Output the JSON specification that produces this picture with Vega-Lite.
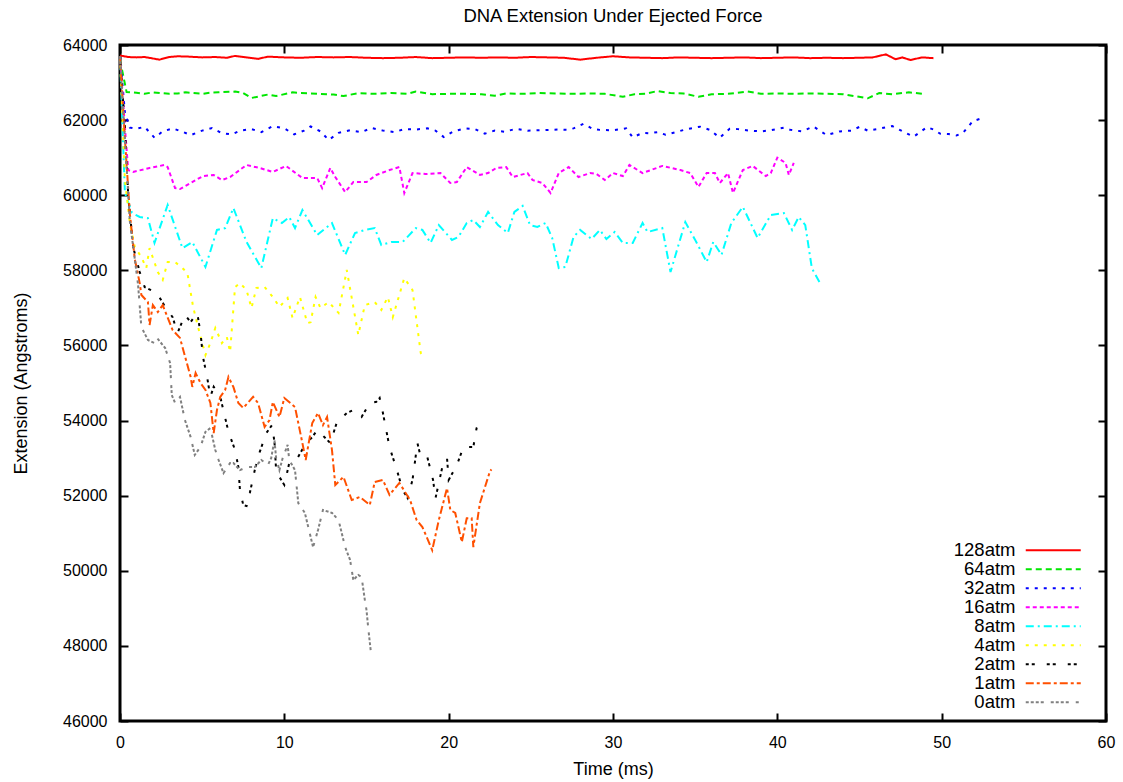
{
"$schema": "https://vega.github.io/schema/vega-lite/v6.json",
"width": 986, "height": 676,
"autosize": {"type": "none"},
"padding": {"left": 120, "top": 45, "right": 17, "bottom": 61},
"background": "white",
"title": {"text": "DNA Extension Under Ejected Force", "fontSize": 18.5, "fontWeight": "normal", "font": "Liberation Sans", "color": "black", "offset": 12, "anchor": "middle"},
"config": {
  "view": {"stroke": "black", "strokeWidth": 3},
  "axis": {"grid": false, "domain": false, "labelFlush": false, "labelFont": "Liberation Sans", "labelFontSize": 16, "labelColor": "black", "titleFont": "Liberation Sans", "titleFontSize": 18, "titleFontWeight": "normal", "titleColor": "black", "tickColor": "black", "tickWidth": 2, "tickSize": -8}
},
"data": {"values": [
{"s":"128atm","t":0,"v":63720},{"s":"128atm","t":0.5,"v":63680},{"s":"128atm","t":1,"v":63670},{"s":"128atm","t":1.5,"v":63680},{"s":"128atm","t":2.4,"v":63610},{"s":"128atm","t":3,"v":63680},{"s":"128atm","t":3.5,"v":63700},{"s":"128atm","t":4.2,"v":63690},{"s":"128atm","t":5,"v":63670},{"s":"128atm","t":5.8,"v":63680},{"s":"128atm","t":6.5,"v":63660},{"s":"128atm","t":7,"v":63710},{"s":"128atm","t":7.5,"v":63680},{"s":"128atm","t":8.4,"v":63630},{"s":"128atm","t":9,"v":63690},{"s":"128atm","t":10,"v":63670},{"s":"128atm","t":11,"v":63660},{"s":"128atm","t":12,"v":63680},{"s":"128atm","t":13,"v":63670},{"s":"128atm","t":14,"v":63680},{"s":"128atm","t":15,"v":63660},{"s":"128atm","t":16,"v":63650},{"s":"128atm","t":17,"v":63660},{"s":"128atm","t":18,"v":63680},{"s":"128atm","t":19,"v":63650},{"s":"128atm","t":20,"v":63660},{"s":"128atm","t":21,"v":63670},{"s":"128atm","t":22,"v":63660},{"s":"128atm","t":23,"v":63670},{"s":"128atm","t":24,"v":63660},{"s":"128atm","t":25,"v":63680},{"s":"128atm","t":26,"v":63670},{"s":"128atm","t":27,"v":63660},{"s":"128atm","t":28,"v":63610},{"s":"128atm","t":29,"v":63660},{"s":"128atm","t":30,"v":63700},{"s":"128atm","t":31,"v":63670},{"s":"128atm","t":32,"v":63660},{"s":"128atm","t":33,"v":63650},{"s":"128atm","t":34,"v":63670},{"s":"128atm","t":35,"v":63660},{"s":"128atm","t":36,"v":63650},{"s":"128atm","t":37,"v":63660},{"s":"128atm","t":38,"v":63670},{"s":"128atm","t":39,"v":63650},{"s":"128atm","t":40,"v":63660},{"s":"128atm","t":41,"v":63670},{"s":"128atm","t":42,"v":63650},{"s":"128atm","t":43,"v":63660},{"s":"128atm","t":44,"v":63650},{"s":"128atm","t":45,"v":63660},{"s":"128atm","t":45.8,"v":63670},{"s":"128atm","t":46.6,"v":63750},{"s":"128atm","t":47.2,"v":63620},{"s":"128atm","t":47.6,"v":63670},{"s":"128atm","t":48.1,"v":63600},{"s":"128atm","t":48.8,"v":63670},{"s":"128atm","t":49.5,"v":63650},
{"s":"64atm","t":0,"v":63600},{"s":"64atm","t":0.4,"v":62750},{"s":"64atm","t":1,"v":62730},{"s":"64atm","t":1.5,"v":62700},{"s":"64atm","t":2,"v":62740},{"s":"64atm","t":3,"v":62700},{"s":"64atm","t":3.5,"v":62710},{"s":"64atm","t":4,"v":62740},{"s":"64atm","t":5,"v":62700},{"s":"64atm","t":5.5,"v":62730},{"s":"64atm","t":6,"v":62740},{"s":"64atm","t":7,"v":62760},{"s":"64atm","t":7.5,"v":62720},{"s":"64atm","t":8,"v":62590},{"s":"64atm","t":9,"v":62680},{"s":"64atm","t":9.5,"v":62640},{"s":"64atm","t":10.5,"v":62740},{"s":"64atm","t":11,"v":62720},{"s":"64atm","t":12,"v":62700},{"s":"64atm","t":13,"v":62680},{"s":"64atm","t":13.6,"v":62640},{"s":"64atm","t":14.5,"v":62720},{"s":"64atm","t":15.5,"v":62700},{"s":"64atm","t":16.5,"v":62720},{"s":"64atm","t":17.5,"v":62700},{"s":"64atm","t":18,"v":62760},{"s":"64atm","t":19,"v":62690},{"s":"64atm","t":20,"v":62700},{"s":"64atm","t":21,"v":62700},{"s":"64atm","t":22,"v":62690},{"s":"64atm","t":22.8,"v":62650},{"s":"64atm","t":23.5,"v":62710},{"s":"64atm","t":24.5,"v":62700},{"s":"64atm","t":25.5,"v":62720},{"s":"64atm","t":26.5,"v":62710},{"s":"64atm","t":27.5,"v":62700},{"s":"64atm","t":28.5,"v":62710},{"s":"64atm","t":29.5,"v":62700},{"s":"64atm","t":30.6,"v":62620},{"s":"64atm","t":31.3,"v":62690},{"s":"64atm","t":32,"v":62700},{"s":"64atm","t":32.7,"v":62775},{"s":"64atm","t":33.5,"v":62720},{"s":"64atm","t":34.3,"v":62710},{"s":"64atm","t":35.2,"v":62620},{"s":"64atm","t":36,"v":62690},{"s":"64atm","t":37,"v":62700},{"s":"64atm","t":38.2,"v":62760},{"s":"64atm","t":39,"v":62700},{"s":"64atm","t":40,"v":62710},{"s":"64atm","t":41,"v":62700},{"s":"64atm","t":42,"v":62710},{"s":"64atm","t":43,"v":62700},{"s":"64atm","t":44,"v":62690},{"s":"64atm","t":45.5,"v":62580},{"s":"64atm","t":46.2,"v":62720},{"s":"64atm","t":47,"v":62690},{"s":"64atm","t":48,"v":62740},{"s":"64atm","t":48.9,"v":62700},
{"s":"32atm","t":0,"v":63700},{"s":"32atm","t":0.3,"v":62200},{"s":"32atm","t":0.6,"v":61800},{"s":"32atm","t":1,"v":61770},{"s":"32atm","t":1.5,"v":61820},{"s":"32atm","t":2.1,"v":61530},{"s":"32atm","t":2.6,"v":61700},{"s":"32atm","t":3.2,"v":61780},{"s":"32atm","t":3.8,"v":61690},{"s":"32atm","t":4.3,"v":61600},{"s":"32atm","t":5,"v":61720},{"s":"32atm","t":5.6,"v":61790},{"s":"32atm","t":6.2,"v":61650},{"s":"32atm","t":6.8,"v":61620},{"s":"32atm","t":7.3,"v":61720},{"s":"32atm","t":8,"v":61760},{"s":"32atm","t":8.6,"v":61680},{"s":"32atm","t":9.3,"v":61840},{"s":"32atm","t":10,"v":61780},{"s":"32atm","t":10.6,"v":61620},{"s":"32atm","t":11.2,"v":61720},{"s":"32atm","t":11.6,"v":61830},{"s":"32atm","t":12.2,"v":61700},{"s":"32atm","t":12.7,"v":61470},{"s":"32atm","t":13.3,"v":61660},{"s":"32atm","t":14,"v":61730},{"s":"32atm","t":14.7,"v":61680},{"s":"32atm","t":15.3,"v":61790},{"s":"32atm","t":16,"v":61720},{"s":"32atm","t":16.7,"v":61680},{"s":"32atm","t":17.3,"v":61760},{"s":"32atm","t":18,"v":61750},{"s":"32atm","t":18.7,"v":61780},{"s":"32atm","t":19.2,"v":61720},{"s":"32atm","t":19.7,"v":61550},{"s":"32atm","t":20.3,"v":61700},{"s":"32atm","t":21,"v":61780},{"s":"32atm","t":21.6,"v":61760},{"s":"32atm","t":22.2,"v":61640},{"s":"32atm","t":22.8,"v":61720},{"s":"32atm","t":23.4,"v":61690},{"s":"32atm","t":24.1,"v":61770},{"s":"32atm","t":24.8,"v":61720},{"s":"32atm","t":25.5,"v":61730},{"s":"32atm","t":26.2,"v":61740},{"s":"32atm","t":26.7,"v":61750},{"s":"32atm","t":27.2,"v":61740},{"s":"32atm","t":27.6,"v":61780},{"s":"32atm","t":28.2,"v":61900},{"s":"32atm","t":28.8,"v":61760},{"s":"32atm","t":29.2,"v":61740},{"s":"32atm","t":30,"v":61730},{"s":"32atm","t":30.8,"v":61780},{"s":"32atm","t":31.2,"v":61540},{"s":"32atm","t":31.8,"v":61660},{"s":"32atm","t":32.2,"v":61650},{"s":"32atm","t":32.7,"v":61680},{"s":"32atm","t":33.2,"v":61610},{"s":"32atm","t":33.9,"v":61690},{"s":"32atm","t":34.5,"v":61760},{"s":"32atm","t":35.3,"v":61825},{"s":"32atm","t":35.9,"v":61740},{"s":"32atm","t":36.5,"v":61530},{"s":"32atm","t":37.1,"v":61770},{"s":"32atm","t":37.6,"v":61760},{"s":"32atm","t":38.3,"v":61720},{"s":"32atm","t":39,"v":61700},{"s":"32atm","t":39.6,"v":61730},{"s":"32atm","t":40.4,"v":61800},{"s":"32atm","t":40.8,"v":61740},{"s":"32atm","t":41.5,"v":61700},{"s":"32atm","t":42.2,"v":61830},{"s":"32atm","t":43,"v":61600},{"s":"32atm","t":43.8,"v":61700},{"s":"32atm","t":44.5,"v":61720},{"s":"32atm","t":45,"v":61820},{"s":"32atm","t":45.5,"v":61720},{"s":"32atm","t":46.1,"v":61760},{"s":"32atm","t":46.7,"v":61820},{"s":"32atm","t":47,"v":61840},{"s":"32atm","t":47.9,"v":61640},{"s":"32atm","t":48.3,"v":61560},{"s":"32atm","t":49.1,"v":61810},{"s":"32atm","t":49.5,"v":61750},{"s":"32atm","t":49.9,"v":61640},{"s":"32atm","t":50.4,"v":61630},{"s":"32atm","t":50.9,"v":61590},{"s":"32atm","t":51.3,"v":61660},{"s":"32atm","t":51.9,"v":61975},{"s":"32atm","t":52.5,"v":62055},
{"s":"16atm","t":0,"v":63700},{"s":"16atm","t":0.3,"v":61800},{"s":"16atm","t":0.5,"v":60670},{"s":"16atm","t":0.8,"v":60620},{"s":"16atm","t":1.8,"v":60725},{"s":"16atm","t":2.7,"v":60805},{"s":"16atm","t":2.9,"v":60750},{"s":"16atm","t":3.35,"v":60190},{"s":"16atm","t":3.65,"v":60165},{"s":"16atm","t":4.3,"v":60325},{"s":"16atm","t":5.05,"v":60510},{"s":"16atm","t":5.7,"v":60540},{"s":"16atm","t":6.2,"v":60405},{"s":"16atm","t":6.7,"v":60485},{"s":"16atm","t":7.7,"v":60805},{"s":"16atm","t":8.5,"v":60725},{"s":"16atm","t":9.3,"v":60620},{"s":"16atm","t":10.1,"v":60780},{"s":"16atm","t":11.1,"v":60460},{"s":"16atm","t":12,"v":60460},{"s":"16atm","t":12.3,"v":60190},{"s":"16atm","t":12.8,"v":60725},{"s":"16atm","t":13.1,"v":60485},{"s":"16atm","t":13.7,"v":60085},{"s":"16atm","t":14.2,"v":60350},{"s":"16atm","t":15,"v":60350},{"s":"16atm","t":15.6,"v":60540},{"s":"16atm","t":16.4,"v":60670},{"s":"16atm","t":17,"v":60750},{"s":"16atm","t":17.3,"v":60060},{"s":"16atm","t":17.8,"v":60590},{"s":"16atm","t":18.6,"v":60565},{"s":"16atm","t":19.5,"v":60590},{"s":"16atm","t":20.1,"v":60325},{"s":"16atm","t":20.5,"v":60350},{"s":"16atm","t":21.1,"v":60750},{"s":"16atm","t":21.9,"v":60540},{"s":"16atm","t":22.4,"v":60590},{"s":"16atm","t":22.9,"v":60725},{"s":"16atm","t":23.5,"v":60750},{"s":"16atm","t":23.9,"v":60485},{"s":"16atm","t":24.8,"v":60590},{"s":"16atm","t":25.1,"v":60405},{"s":"16atm","t":25.7,"v":60325},{"s":"16atm","t":26.2,"v":60060},{"s":"16atm","t":26.7,"v":60590},{"s":"16atm","t":27.3,"v":60750},{"s":"16atm","t":27.9,"v":60485},{"s":"16atm","t":28.6,"v":60590},{"s":"16atm","t":29,"v":60565},{"s":"16atm","t":29.5,"v":60405},{"s":"16atm","t":30,"v":60590},{"s":"16atm","t":30.6,"v":60510},{"s":"16atm","t":31,"v":60805},{"s":"16atm","t":31.8,"v":60590},{"s":"16atm","t":33,"v":60780},{"s":"16atm","t":34.1,"v":60670},{"s":"16atm","t":34.7,"v":60590},{"s":"16atm","t":35.2,"v":60220},{"s":"16atm","t":35.7,"v":60590},{"s":"16atm","t":36.2,"v":60590},{"s":"16atm","t":36.5,"v":60325},{"s":"16atm","t":37,"v":60590},{"s":"16atm","t":37.3,"v":60060},{"s":"16atm","t":37.9,"v":60670},{"s":"16atm","t":38.5,"v":60780},{"s":"16atm","t":39.3,"v":60510},{"s":"16atm","t":39.6,"v":60590},{"s":"16atm","t":40,"v":61000},{"s":"16atm","t":40.5,"v":60860},{"s":"16atm","t":40.7,"v":60540},{"s":"16atm","t":41,"v":60860},
{"s":"8atm","t":0,"v":63700},{"s":"8atm","t":0.3,"v":60060},{"s":"8atm","t":0.73,"v":59530},{"s":"8atm","t":1.2,"v":59420},{"s":"8atm","t":1.7,"v":59390},{"s":"8atm","t":2.1,"v":58730},{"s":"8atm","t":2.9,"v":59740},{"s":"8atm","t":3.8,"v":58590},{"s":"8atm","t":4.4,"v":58755},{"s":"8atm","t":5.2,"v":58090},{"s":"8atm","t":5.9,"v":59075},{"s":"8atm","t":6.4,"v":59125},{"s":"8atm","t":6.9,"v":59660},{"s":"8atm","t":7.7,"v":58755},{"s":"8atm","t":8.6,"v":58060},{"s":"8atm","t":9.3,"v":59390},{"s":"8atm","t":9.85,"v":59260},{"s":"8atm","t":10.3,"v":59420},{"s":"8atm","t":10.65,"v":59125},{"s":"8atm","t":11.1,"v":59605},{"s":"8atm","t":12,"v":58940},{"s":"8atm","t":12.9,"v":59260},{"s":"8atm","t":13.7,"v":58410},{"s":"8atm","t":14.3,"v":58995},{"s":"8atm","t":14.9,"v":59075},{"s":"8atm","t":15.5,"v":59125},{"s":"8atm","t":15.9,"v":58675},{"s":"8atm","t":16.5,"v":58755},{"s":"8atm","t":17.2,"v":58755},{"s":"8atm","t":18,"v":59125},{"s":"8atm","t":18.4,"v":59075},{"s":"8atm","t":18.9,"v":58730},{"s":"8atm","t":19.4,"v":59205},{"s":"8atm","t":20.2,"v":58810},{"s":"8atm","t":20.6,"v":58890},{"s":"8atm","t":21.1,"v":59260},{"s":"8atm","t":21.5,"v":59340},{"s":"8atm","t":21.9,"v":59155},{"s":"8atm","t":22.4,"v":59555},{"s":"8atm","t":23,"v":59205},{"s":"8atm","t":23.6,"v":58995},{"s":"8atm","t":24,"v":59555},{"s":"8atm","t":24.5,"v":59715},{"s":"8atm","t":24.95,"v":59205},{"s":"8atm","t":25.4,"v":59155},{"s":"8atm","t":25.9,"v":59260},{"s":"8atm","t":26.3,"v":58860},{"s":"8atm","t":26.7,"v":58060},{"s":"8atm","t":27.1,"v":58090},{"s":"8atm","t":27.6,"v":58890},{"s":"8atm","t":28,"v":59075},{"s":"8atm","t":28.7,"v":58835},{"s":"8atm","t":29.2,"v":59075},{"s":"8atm","t":29.6,"v":58835},{"s":"8atm","t":30.1,"v":59020},{"s":"8atm","t":30.6,"v":58730},{"s":"8atm","t":31.2,"v":58730},{"s":"8atm","t":31.8,"v":59260},{"s":"8atm","t":32.1,"v":59020},{"s":"8atm","t":33,"v":59125},{"s":"8atm","t":33.5,"v":57955},{"s":"8atm","t":34.4,"v":59285},{"s":"8atm","t":35,"v":58810},{"s":"8atm","t":35.7,"v":58220},{"s":"8atm","t":36.1,"v":58755},{"s":"8atm","t":36.6,"v":58410},{"s":"8atm","t":37.2,"v":59260},{"s":"8atm","t":37.9,"v":59690},{"s":"8atm","t":38.8,"v":58860},{"s":"8atm","t":39.6,"v":59475},{"s":"8atm","t":40.4,"v":59525},{"s":"8atm","t":40.9,"v":59075},{"s":"8atm","t":41.3,"v":59420},{"s":"8atm","t":41.7,"v":59205},{"s":"8atm","t":42.1,"v":58060},{"s":"8atm","t":42.6,"v":57660},
{"s":"4atm","t":0,"v":63700},{"s":"4atm","t":0.3,"v":60400},{"s":"4atm","t":0.6,"v":59260},{"s":"4atm","t":0.9,"v":58620},{"s":"4atm","t":1.3,"v":58355},{"s":"4atm","t":1.6,"v":58060},{"s":"4atm","t":1.8,"v":58590},{"s":"4atm","t":2.3,"v":57955},{"s":"4atm","t":2.6,"v":57745},{"s":"4atm","t":2.9,"v":58220},{"s":"4atm","t":3.35,"v":58220},{"s":"4atm","t":3.8,"v":58060},{"s":"4atm","t":4.1,"v":57930},{"s":"4atm","t":4.45,"v":57025},{"s":"4atm","t":4.75,"v":56490},{"s":"4atm","t":5.2,"v":55745},{"s":"4atm","t":5.5,"v":56065},{"s":"4atm","t":5.8,"v":56465},{"s":"4atm","t":6.2,"v":56065},{"s":"4atm","t":6.5,"v":56225},{"s":"4atm","t":6.7,"v":55825},{"s":"4atm","t":7,"v":57555},{"s":"4atm","t":7.3,"v":57660},{"s":"4atm","t":7.7,"v":57475},{"s":"4atm","t":8,"v":56995},{"s":"4atm","t":8.3,"v":57530},{"s":"4atm","t":8.8,"v":57555},{"s":"4atm","t":9.3,"v":57290},{"s":"4atm","t":9.7,"v":57025},{"s":"4atm","t":10.2,"v":57265},{"s":"4atm","t":10.5,"v":56730},{"s":"4atm","t":10.95,"v":57290},{"s":"4atm","t":11.4,"v":56595},{"s":"4atm","t":11.6,"v":56620},{"s":"4atm","t":11.9,"v":57290},{"s":"4atm","t":12.2,"v":56995},{"s":"4atm","t":12.7,"v":57155},{"s":"4atm","t":13.3,"v":56865},{"s":"4atm","t":13.8,"v":58010},{"s":"4atm","t":14.5,"v":56280},{"s":"4atm","t":14.9,"v":57075},{"s":"4atm","t":15.5,"v":57155},{"s":"4atm","t":15.9,"v":56945},{"s":"4atm","t":16.3,"v":57290},{"s":"4atm","t":16.6,"v":56755},{"s":"4atm","t":17.3,"v":57795},{"s":"4atm","t":17.8,"v":57475},{"s":"4atm","t":18.3,"v":55800},{"s":"4atm","t":18.4,"v":55740},
{"s":"2atm","t":0,"v":63700},{"s":"2atm","t":0.3,"v":61800},{"s":"2atm","t":0.5,"v":60000},{"s":"2atm","t":0.8,"v":58620},{"s":"2atm","t":1.2,"v":57955},{"s":"2atm","t":1.5,"v":57555},{"s":"2atm","t":2.25,"v":57395},{"s":"2atm","t":2.75,"v":57025},{"s":"2atm","t":3.2,"v":56755},{"s":"2atm","t":3.5,"v":56330},{"s":"2atm","t":3.95,"v":56810},{"s":"2atm","t":4.3,"v":56625},{"s":"2atm","t":4.7,"v":56865},{"s":"2atm","t":4.9,"v":56330},{"s":"2atm","t":5.05,"v":55690},{"s":"2atm","t":5.3,"v":55160},{"s":"2atm","t":5.5,"v":54630},{"s":"2atm","t":5.7,"v":54900},{"s":"2atm","t":6.1,"v":54630},{"s":"2atm","t":6.6,"v":53700},{"s":"2atm","t":7,"v":53215},{"s":"2atm","t":7.2,"v":52770},{"s":"2atm","t":7.3,"v":52150},{"s":"2atm","t":7.5,"v":51750},{"s":"2atm","t":7.7,"v":51725},{"s":"2atm","t":7.9,"v":52070},{"s":"2atm","t":8.2,"v":52680},{"s":"2atm","t":8.5,"v":53160},{"s":"2atm","t":8.9,"v":53665},{"s":"2atm","t":9.25,"v":53880},{"s":"2atm","t":9.4,"v":53430},{"s":"2atm","t":9.5,"v":52680},{"s":"2atm","t":9.7,"v":52500},{"s":"2atm","t":10,"v":52285},{"s":"2atm","t":10.3,"v":52870},{"s":"2atm","t":10.8,"v":53000},{"s":"2atm","t":11.25,"v":53350},{"s":"2atm","t":11.7,"v":53560},{"s":"2atm","t":12,"v":53750},{"s":"2atm","t":12.35,"v":53600},{"s":"2atm","t":12.8,"v":53400},{"s":"2atm","t":13.2,"v":53960},{"s":"2atm","t":13.8,"v":54200},{"s":"2atm","t":14.2,"v":54280},{"s":"2atm","t":14.7,"v":54095},{"s":"2atm","t":15.2,"v":54470},{"s":"2atm","t":15.6,"v":54500},{"s":"2atm","t":15.8,"v":54600},{"s":"2atm","t":16,"v":54200},{"s":"2atm","t":16.4,"v":53295},{"s":"2atm","t":16.85,"v":52680},{"s":"2atm","t":17.2,"v":52150},{"s":"2atm","t":17.5,"v":51935},{"s":"2atm","t":17.8,"v":52420},{"s":"2atm","t":18.1,"v":53400},{"s":"2atm","t":18.3,"v":53030},{"s":"2atm","t":18.7,"v":53030},{"s":"2atm","t":19.05,"v":52420},{"s":"2atm","t":19.2,"v":51935},{"s":"2atm","t":19.6,"v":52735},{"s":"2atm","t":19.9,"v":53000},{"s":"2atm","t":20,"v":52420},{"s":"2atm","t":20.5,"v":52815},{"s":"2atm","t":20.9,"v":53295},{"s":"2atm","t":21.5,"v":53295},{"s":"2atm","t":21.7,"v":53800},{"s":"2atm","t":21.8,"v":53880},
{"s":"1atm","t":0,"v":63700},{"s":"1atm","t":0.3,"v":61500},{"s":"1atm","t":0.6,"v":59500},{"s":"1atm","t":0.9,"v":58300},{"s":"1atm","t":1.2,"v":57660},{"s":"1atm","t":1.3,"v":57345},{"s":"1atm","t":1.7,"v":57155},{"s":"1atm","t":1.8,"v":56545},{"s":"1atm","t":2,"v":57075},{"s":"1atm","t":2.3,"v":56890},{"s":"1atm","t":2.6,"v":57075},{"s":"1atm","t":3.2,"v":56410},{"s":"1atm","t":3.65,"v":56200},{"s":"1atm","t":4.3,"v":55160},{"s":"1atm","t":4.4,"v":54895},{"s":"1atm","t":4.6,"v":55265},{"s":"1atm","t":4.9,"v":55000},{"s":"1atm","t":5.2,"v":54815},{"s":"1atm","t":5.5,"v":54470},{"s":"1atm","t":5.7,"v":53665},{"s":"1atm","t":5.9,"v":54280},{"s":"1atm","t":6.1,"v":54630},{"s":"1atm","t":6.4,"v":54815},{"s":"1atm","t":6.6,"v":55160},{"s":"1atm","t":6.9,"v":54895},{"s":"1atm","t":7.2,"v":54470},{"s":"1atm","t":7.5,"v":54335},{"s":"1atm","t":8.1,"v":54630},{"s":"1atm","t":8.4,"v":54470},{"s":"1atm","t":8.8,"v":53830},{"s":"1atm","t":9.1,"v":54015},{"s":"1atm","t":9.3,"v":54495},{"s":"1atm","t":9.7,"v":54095},{"s":"1atm","t":10,"v":54600},{"s":"1atm","t":10.65,"v":54360},{"s":"1atm","t":11.1,"v":53400},{"s":"1atm","t":11.3,"v":52950},{"s":"1atm","t":11.7,"v":53935},{"s":"1atm","t":12.05,"v":54200},{"s":"1atm","t":12.35,"v":53880},{"s":"1atm","t":12.6,"v":54095},{"s":"1atm","t":12.9,"v":53215},{"s":"1atm","t":13.1,"v":52285},{"s":"1atm","t":13.6,"v":52500},{"s":"1atm","t":14.1,"v":51885},{"s":"1atm","t":14.6,"v":51965},{"s":"1atm","t":15.2,"v":51750},{"s":"1atm","t":15.5,"v":52365},{"s":"1atm","t":16,"v":52420},{"s":"1atm","t":16.4,"v":52020},{"s":"1atm","t":17,"v":52340},{"s":"1atm","t":17.65,"v":51885},{"s":"1atm","t":18.05,"v":51350},{"s":"1atm","t":18.4,"v":51165},{"s":"1atm","t":19,"v":50550},{"s":"1atm","t":19.4,"v":51350},{"s":"1atm","t":19.9,"v":52200},{"s":"1atm","t":20.1,"v":51620},{"s":"1atm","t":20.4,"v":51540},{"s":"1atm","t":20.8,"v":50765},{"s":"1atm","t":21.1,"v":51400},{"s":"1atm","t":21.4,"v":51400},{"s":"1atm","t":21.5,"v":50630},{"s":"1atm","t":21.9,"v":51800},{"s":"1atm","t":22.5,"v":52630},{"s":"1atm","t":22.6,"v":52700},
{"s":"0atm","t":0,"v":63700},{"s":"0atm","t":0.3,"v":61500},{"s":"0atm","t":0.6,"v":59300},{"s":"0atm","t":0.9,"v":58300},{"s":"0atm","t":1.1,"v":57610},{"s":"0atm","t":1.3,"v":56490},{"s":"0atm","t":1.7,"v":56145},{"s":"0atm","t":2.1,"v":56065},{"s":"0atm","t":2.25,"v":56200},{"s":"0atm","t":2.75,"v":55930},{"s":"0atm","t":3.05,"v":55530},{"s":"0atm","t":3.15,"v":54680},{"s":"0atm","t":3.35,"v":54470},{"s":"0atm","t":3.65,"v":54630},{"s":"0atm","t":3.95,"v":54015},{"s":"0atm","t":4.3,"v":53560},{"s":"0atm","t":4.55,"v":53085},{"s":"0atm","t":4.9,"v":53300},{"s":"0atm","t":5.2,"v":53700},{"s":"0atm","t":5.5,"v":53800},{"s":"0atm","t":5.8,"v":53215},{"s":"0atm","t":6,"v":52950},{"s":"0atm","t":6.3,"v":52600},{"s":"0atm","t":6.7,"v":52870},{"s":"0atm","t":6.9,"v":52870},{"s":"0atm","t":7.3,"v":52680},{"s":"0atm","t":7.7,"v":52760},{"s":"0atm","t":8.2,"v":52760},{"s":"0atm","t":8.6,"v":52950},{"s":"0atm","t":9,"v":52815},{"s":"0atm","t":9.2,"v":53000},{"s":"0atm","t":9.4,"v":53480},{"s":"0atm","t":9.5,"v":53000},{"s":"0atm","t":9.7,"v":52680},{"s":"0atm","t":9.9,"v":53000},{"s":"0atm","t":10.2,"v":53350},{"s":"0atm","t":10.3,"v":52950},{"s":"0atm","t":10.65,"v":52680},{"s":"0atm","t":10.85,"v":51800},{"s":"0atm","t":11.25,"v":51540},{"s":"0atm","t":11.75,"v":50630},{"s":"0atm","t":12.05,"v":51085},{"s":"0atm","t":12.35,"v":51620},{"s":"0atm","t":12.9,"v":51540},{"s":"0atm","t":13.3,"v":51350},{"s":"0atm","t":13.7,"v":50630},{"s":"0atm","t":14,"v":50290},{"s":"0atm","t":14.2,"v":49755},{"s":"0atm","t":14.5,"v":49890},{"s":"0atm","t":14.7,"v":49835},{"s":"0atm","t":14.9,"v":49220},{"s":"0atm","t":15,"v":48955},{"s":"0atm","t":15.1,"v":48500},{"s":"0atm","t":15.3,"v":47700}
]},
"layer": [
  {
    "mark": {"type": "line", "strokeWidth": 2},
    "encoding": {
      "x": {"field": "t", "type": "quantitative", "scale": {"domain": [0, 60], "nice": false, "zero": false},
            "axis": {"values": [0,10,20,30,40,50,60], "title": "Time (ms)", "labelPadding": 21, "titlePadding": 10}},
      "y": {"field": "v", "type": "quantitative", "scale": {"domain": [46000, 64000], "nice": false, "zero": false},
            "axis": {"values": [46000,48000,50000,52000,54000,56000,58000,60000,62000,64000], "format": "d", "title": "Extension (Angstroms)", "labelPadding": 21, "titlePadding": 32}},
      "color": {"field": "s", "type": "nominal",
        "scale": {"domain": ["128atm","64atm","32atm","16atm","8atm","4atm","2atm","1atm","0atm"],
                  "range": ["#ff0000","#00e600","#0000ff","#ff00ff","#00ffff","#ffff00","#000000","#ff5000","#808080"]},
        "legend": {"title": null, "orient": "none", "legendX": 924, "legendY": 496, "symbolType": "M-5,0H5", "symbolSize": 121, "symbolStrokeWidth": 2, "labelAlign": "right", "labelOffset": -47, "labelFontSize": 18.5, "labelFont": "Liberation Sans", "labelColor": "black", "rowPadding": 0}},
      "strokeDash": {"field": "s", "type": "nominal",
        "scale": {"domain": ["128atm","64atm","32atm","16atm","8atm","4atm","2atm","1atm","0atm"],
                  "range": [[1,0],[6,4],[3,6],[4,3],[8,4,2,4],[3,6],[3,3,3,12],[8,3,3,3],[3,2,3,2,3,2,3,7]]},
        "legend": {"title": null, "orient": "none", "legendX": 924, "legendY": 496, "symbolType": "M-5,0H5", "symbolSize": 121, "symbolStrokeWidth": 2, "labelAlign": "right", "labelOffset": -47, "labelFontSize": 18.5, "labelFont": "Liberation Sans", "labelColor": "black", "rowPadding": 0}}
    }
  },
  {
    "mark": {"type": "point", "opacity": 0},
    "encoding": {
      "x": {"field": "t", "type": "quantitative", "axis": {"orient": "top", "labels": false, "title": null, "values": [0,10,20,30,40,50,60]}},
      "y": {"field": "v", "type": "quantitative", "axis": {"orient": "right", "labels": false, "title": null, "values": [46000,48000,50000,52000,54000,56000,58000,60000,62000,64000]}}
    }
  }
],
"resolve": {"axis": {"x": "independent", "y": "independent"}}
}
